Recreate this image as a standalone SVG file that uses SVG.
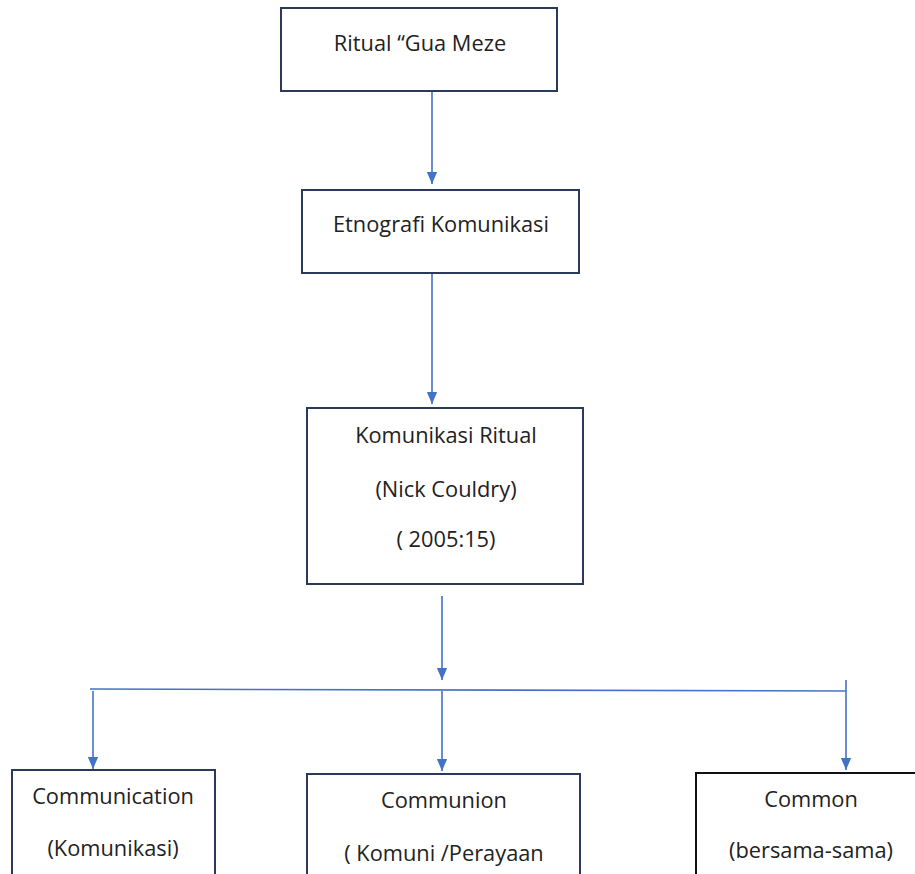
<svg xmlns="http://www.w3.org/2000/svg" width="915" height="874" viewBox="0 0 915 874">
<defs>
<style>
.box{fill:#fff;stroke:#2b3a5a;stroke-width:2}
.boxk{fill:#fff;stroke:#111;stroke-width:2}
.t{font-family:"Open Sans","Liberation Sans",sans-serif;font-size:21.8px;fill:#222;text-anchor:middle}
.c{stroke:#4472c4;stroke-width:1.6;fill:none}
</style>
<marker id="ah" markerWidth="12" markerHeight="14" refX="14" refY="6" orient="auto" markerUnits="userSpaceOnUse" viewBox="0 0 14 12">
<path d="M0,0 L14,6 L0,12 z" fill="#4472c4"/>
</marker>
</defs>
<rect width="915" height="874" fill="#fff"/>
<g id="connectors">
<line class="c" x1="432" y1="91" x2="432" y2="184" marker-end="url(#ah)"/>
<line class="c" x1="432" y1="273" x2="432" y2="404" marker-end="url(#ah)"/>
<line class="c" x1="442" y1="596" x2="442" y2="680" marker-end="url(#ah)"/>
<line class="c" x1="90" y1="689" x2="846" y2="691"/>
<line class="c" x1="846" y1="680" x2="846" y2="770" marker-end="url(#ah)"/>
<line class="c" x1="93" y1="691" x2="93" y2="769" marker-end="url(#ah)"/>
<line class="c" x1="442" y1="691" x2="442" y2="771" marker-end="url(#ah)"/>
</g>
<g id="n1"><rect class="box" x="281" y="8" width="276" height="83"/><text class="t" x="420" y="51">Ritual “Gua Meze</text></g>
<g id="n2"><rect class="box" x="302" y="190" width="277" height="83"/><text class="t" x="441" y="232">Etnografi Komunikasi</text></g>
<g id="n3"><rect class="box" x="307" y="408" width="276" height="176"/>
<text class="t" x="446" y="443">Komunikasi Ritual</text>
<text class="t" x="446" y="497">(Nick Couldry)</text>
<text class="t" x="446" y="547">( 2005:15)</text></g>
<g id="n4"><rect class="box" x="12" y="770" width="203" height="110"/>
<text class="t" x="113" y="804">Communication</text>
<text class="t" x="113" y="856">(Komunikasi)</text></g>
<g id="n5"><rect class="box" x="307" y="774" width="273" height="110"/>
<text class="t" x="444" y="808">Communion</text>
<text class="t" x="444" y="861">( Komuni /Perayaan</text></g>
<g id="n6"><rect class="boxk" x="696" y="773" width="230" height="110"/>
<text class="t" x="811" y="807">Common</text>
<text class="t" x="811" y="858">(bersama-sama)</text></g>
</svg>
